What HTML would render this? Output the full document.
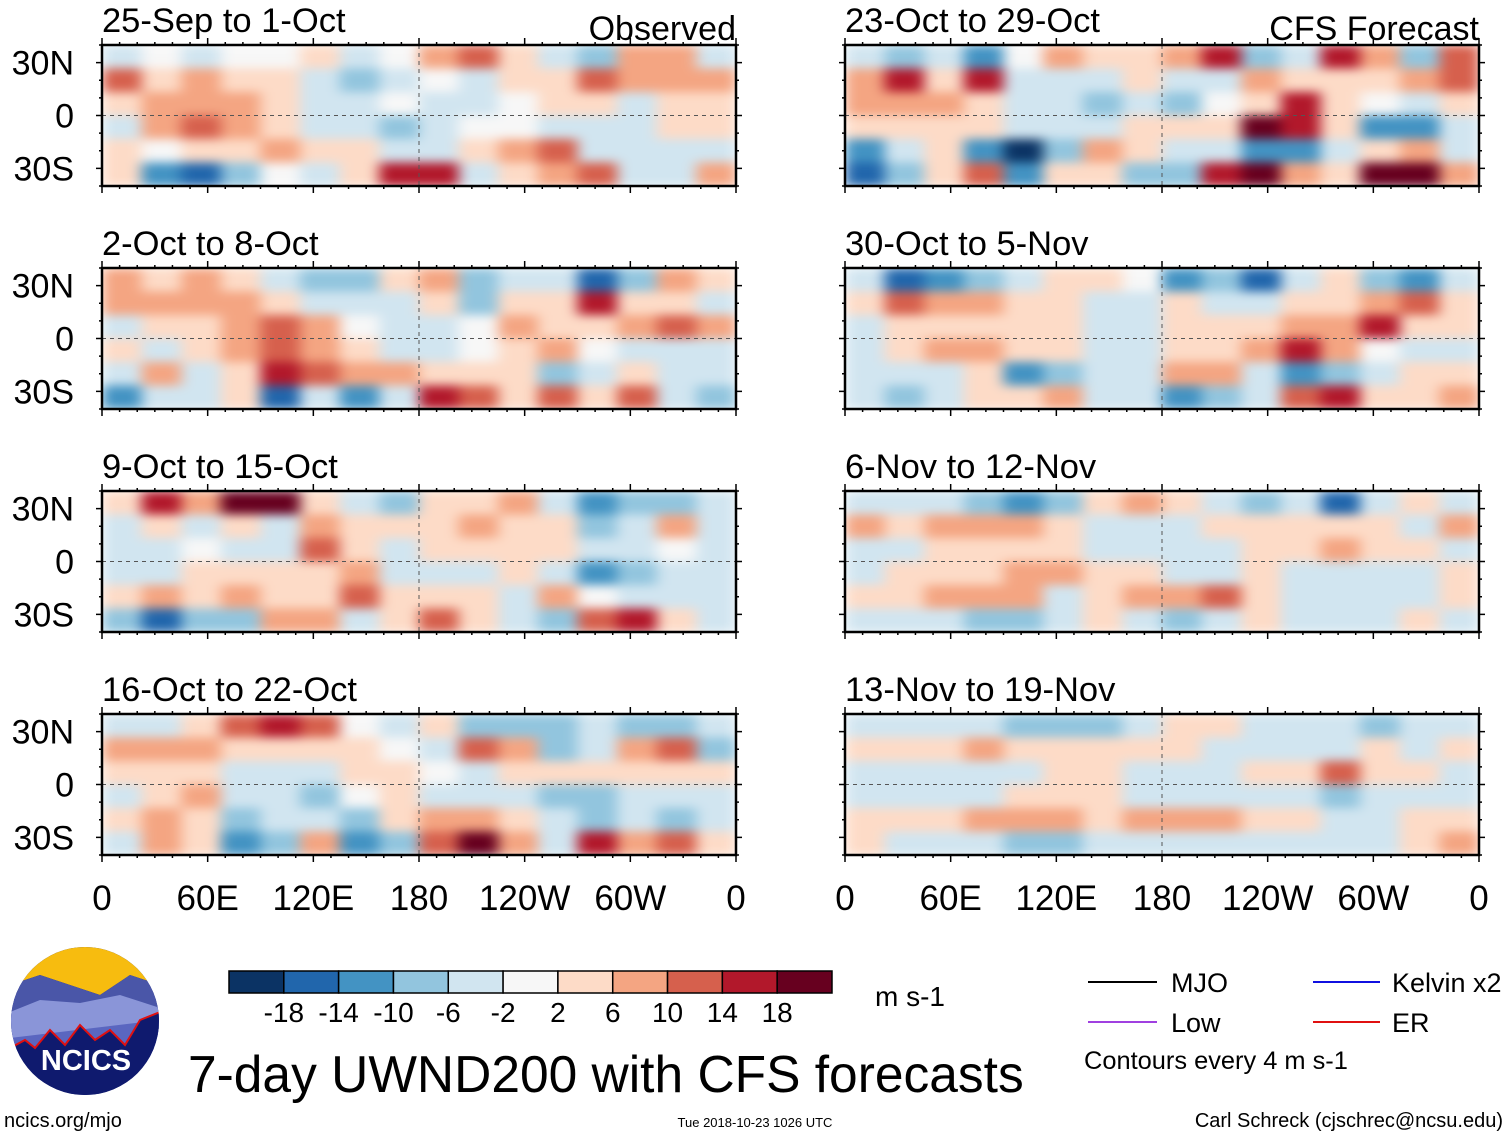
<!DOCTYPE html>
<html><head><meta charset="utf-8"><style>
html,body{margin:0;padding:0;background:#fff;}
svg{display:block;font-family:"Liberation Sans",sans-serif;}
</style></head><body>
<svg id="fig" width="1510" height="1137" viewBox="0 0 1510 1137" xmlns="http://www.w3.org/2000/svg">
<defs>
<filter id="smooth" x="0" y="0" width="1" height="1" color-interpolation-filters="sRGB"><feGaussianBlur stdDeviation="7 5" edgeMode="duplicate"/></filter>
</defs>
<g id="panels"></g>
<g id="xaxes"></g>
<g id="cbar"></g>
<text x="910" y="1006" font-size="28" text-anchor="middle">m s-1</text>
<text x="188" y="1092" font-size="51.5">7-day UWND200 with CFS forecasts</text>
<g>
<clipPath id="logoclip"><ellipse cx="85" cy="1021" rx="74" ry="74"/></clipPath>
<g clip-path="url(#logoclip)">
<rect x="10" y="946" width="150" height="150" fill="#0f1a6e"/>
<path d="M10 946 L160 946 L160 985 L130 975 L100 995 L70 985 L40 975 L10 985Z" fill="#f7bc0f"/>
<path d="M10 985 L40 975 L70 985 L100 995 L130 975 L160 985 L160 1040 L10 1040Z" fill="#4a56a8"/>
<path d="M10 1012 L40 1000 L80 1003 L120 995 L160 1008 L160 1050 L10 1050Z" fill="#8a95d8"/>
<path d="M10 1038 L160 1020 L160 1060 L10 1060Z" fill="#5a66c0"/>
<path d="M10 1048 L25 1040 L35 1048 L50 1030 L65 1045 L80 1025 L95 1040 L110 1030 L125 1045 L140 1020 L160 1012 L160 1100 L10 1100Z" fill="#0f1a6e" stroke="#e01010" stroke-width="2"/>
</g>
<text x="86" y="1070" font-size="29" font-weight="bold" fill="#fff" text-anchor="middle">NCICS</text>
</g>
<text x="4" y="1127" font-size="20">ncics.org/mjo</text>
<text x="755" y="1127" font-size="13" text-anchor="middle">Tue 2018-10-23 1026 UTC</text>
<text x="1503" y="1127" font-size="20" text-anchor="end">Carl Schreck (cjschrec@ncsu.edu)</text>
<g>
<line x1="1088" y1="982" x2="1157" y2="982" stroke="#000" stroke-width="2"/>
<text x="1171" y="992" font-size="27">MJO</text>
<line x1="1313" y1="982" x2="1380" y2="982" stroke="#1010e0" stroke-width="2"/>
<text x="1392" y="992" font-size="27">Kelvin x2</text>
<line x1="1088" y1="1022" x2="1157" y2="1022" stroke="#a040e0" stroke-width="2"/>
<text x="1171" y="1032" font-size="27">Low</text>
<line x1="1313" y1="1022" x2="1380" y2="1022" stroke="#e01010" stroke-width="2"/>
<text x="1392" y="1032" font-size="27">ER</text>
<text x="1084" y="1069" font-size="25.4">Contours every 4 m s-1</text>
</g>
</svg>
<script>
// ---- data: 200-hPa zonal wind anomalies (m/s), 6 latitude rows x 16 longitude cols per panel
const panelTitles = ["25-Sep to 1-Oct","2-Oct to 8-Oct","9-Oct to 15-Oct","16-Oct to 22-Oct","23-Oct to 29-Oct","30-Oct to 5-Nov","6-Nov to 12-Nov","13-Nov to 19-Nov"];
const colorLevels = [-18,-14,-10,-6,-2,2,6,10,14,18];
const colorPalette = ["#0b3364","#2166ac","#4393c3","#92c5de","#d1e5f0","#f7f7f7","#fddbc7","#f4a582","#d6604d","#b2182b","#67001f"];
const yTicks = ["30N","0","30S"];
const yTickLat = [30,0,-30];
const xTicks = ["0","60E","120E","180","120W","60W","0"];
const xTickLon = [0,60,120,180,240,300,360];
const field1 = [
[-4,0,-2,0,0,2,-2,0,6,10,2,-2,-8,6,8,-4],
[10,4,6,2,4,-2,-6,-2,0,-2,2,4,10,6,6,8],
[2,8,6,8,4,-4,-2,0,-2,-2,0,4,2,-2,2,4],
[-2,6,10,6,2,-2,-4,-6,-4,0,0,-2,-4,-4,2,2],
[4,0,4,4,6,4,2,-4,-2,4,6,10,-2,-4,-4,-2],
[4,-10,-14,-6,0,-2,4,16,14,-2,2,8,10,-4,-2,8]];
const field2 = [
[8,2,6,4,-2,-8,-8,2,6,-8,-2,-4,-14,-6,6,4],
[8,6,8,6,4,-2,-4,-4,2,-6,2,4,14,4,2,-2],
[-2,4,4,6,10,6,0,-4,-2,0,6,4,4,6,12,8],
[4,-4,2,6,12,8,4,-2,-4,0,2,6,0,-2,-2,-4],
[-2,6,-4,4,14,10,6,6,2,4,2,-6,-4,2,-2,-4],
[-12,-4,-4,4,-14,-4,-10,-2,16,10,4,10,2,10,-2,-8]];
const field3 = [
[2,14,8,18,20,4,-2,-6,2,4,6,-4,-10,-8,-6,-2],
[-2,2,-2,2,-4,6,2,2,4,6,4,2,-6,-4,6,-4],
[-2,-2,0,-4,-2,10,4,-2,4,2,2,2,-4,-4,0,-4],
[-2,-2,2,2,2,4,6,-2,-2,-4,2,-4,-10,-6,-2,-2],
[4,8,2,6,4,2,10,4,4,4,-4,6,0,-4,-4,-2],
[-6,-14,-8,-8,8,6,-2,4,10,4,-2,-6,10,14,4,-2]];
const field4 = [
[-2,-2,4,10,14,10,0,-4,4,-6,-8,-6,-4,-8,-8,-4],
[6,6,6,4,2,2,4,0,-4,12,6,-6,-2,6,10,-6],
[2,2,2,-2,-4,-2,2,2,0,-4,2,2,4,4,4,2],
[-2,4,6,-2,-4,-6,0,4,-4,-2,-4,-6,-8,-4,-2,-4],
[2,6,4,-6,-2,-2,-6,2,6,8,4,-4,-6,-4,-6,-2],
[-4,8,4,-10,-6,8,-10,-6,10,18,8,-2,14,8,12,2]];
const field5 = [
[-4,-6,-2,-10,0,8,4,2,6,14,-8,-4,14,6,-6,12],
[8,14,2,14,-2,-4,-4,2,-2,-4,6,2,2,4,6,12],
[6,8,6,4,-4,-4,-6,-2,-6,0,4,14,2,0,-2,4],
[4,4,2,4,-2,-4,-4,4,2,2,18,16,2,-12,-10,-4],
[-10,-4,4,-12,-18,-8,6,4,-2,-4,-10,-12,-4,4,8,-4],
[-16,-8,2,10,-10,4,2,-8,-6,16,20,6,2,18,18,6]];
const field6 = [
[-4,-16,-12,-8,-4,2,2,0,-10,-8,-14,-4,2,-6,-12,-4],
[2,10,8,6,4,4,-2,-4,2,-2,-4,2,4,6,10,4],
[-2,2,4,4,2,2,-2,-4,2,2,4,6,6,14,2,2],
[-2,4,6,6,4,2,-2,-2,2,4,8,16,8,0,-4,-2],
[-4,-2,-2,4,-10,-6,-2,-2,8,8,-4,-12,-8,-2,2,4],
[-2,-6,-2,2,4,6,-2,-2,-12,-6,-2,12,14,4,4,8]];
const field7 = [
[-2,-4,-2,-6,-10,-6,2,6,2,-2,-6,-4,-14,-4,2,-2],
[6,4,6,8,6,2,-2,-2,-4,2,2,4,2,4,-2,6],
[-2,-2,2,4,2,2,-2,-2,-2,-2,2,4,6,2,2,-2],
[-2,2,2,2,8,6,2,2,-2,-2,2,-2,-2,-4,-2,2],
[2,2,6,8,6,-2,2,6,8,10,4,-2,-2,-2,-2,2],
[-2,-2,-4,-8,-6,-2,2,-4,-8,-4,2,-2,-2,-2,4,-2]];
const field8 = [
[-2,-2,-2,-2,-8,-6,-6,-2,2,2,-2,-4,-4,-6,-4,-2],
[4,4,2,6,4,2,2,4,2,-2,-2,-2,-2,2,-2,4],
[-2,-2,-2,-4,-2,2,2,-2,-2,-2,2,4,10,4,2,-2],
[-2,-2,-2,-2,2,4,2,-2,-2,-4,-4,-4,-6,-4,-2,-2],
[2,2,2,6,8,6,2,6,6,6,2,2,-2,-2,2,4],
[2,-2,-2,-4,-8,-6,-4,-2,-2,-4,-2,-2,-2,-2,2,6]];
const fields = [field1,field2,field3,field4,field5,field6,field7,field8];

const NS = "http://www.w3.org/2000/svg";
const colX = [102, 845], rowY = [45, 268, 491, 714], PW = 634, PH = 141;
function mk(tag, attrs, parent){const e=document.createElementNS(NS,tag);for(const k in attrs)e.setAttribute(k,attrs[k]);parent.appendChild(e);return e;}
function colorFor(v){const n=Math.min(5,Math.max(0,Math.ceil(Math.abs(v)/4-0.25)));return colorPalette[5+Math.sign(v)*n];}
function lonToX(x0,lon){return x0+lon/360*PW;}
function latToY(y0,lat){return y0+(40-lat)/80*PH;}
const panelsG=document.getElementById('panels');
fields.forEach((f,p)=>{
  const col=p<4?0:1,row=p%4,x0=colX[col],y0=rowY[row];
  const g=mk('g',{},panelsG);
  
  
  const cp=mk('clipPath',{id:'cp'+p},g);mk('rect',{x:x0,y:y0,width:PW,height:PH},cp);
  const inner=mk('g',{'clip-path':'url(#cp'+p+')'},g);
  const fg=mk('g',{filter:'url(#smooth)'},inner);
  const nr=f.length,nc=f[0].length;
  for(let r=0;r<nr;r++)for(let c=0;c<nc;c++){
    const latTop=40-80*r/nr,latBot=40-80*(r+1)/nr,lonL=360*c/nc,lonR=360*(c+1)/nc;
    const cell=mk('rect',{x:lonToX(x0,lonL),y:latToY(y0,latTop),width:lonToX(x0,lonR)-lonToX(x0,lonL)+0.5,height:latToY(y0,latBot)-latToY(y0,latTop)+0.5,fill:colorFor(f[r][c])},fg);
    
    
  }
  mk('line',{x1:x0,x2:x0+PW,y1:latToY(y0,0),y2:latToY(y0,0),stroke:'#555','stroke-width':1,'stroke-dasharray':'4 4'},inner);
  mk('line',{x1:lonToX(x0,180),x2:lonToX(x0,180),y1:y0,y2:y0+PH,stroke:'#555','stroke-width':1,'stroke-dasharray':'4 4'},inner);
  mk('rect',{x:x0,y:y0,width:PW,height:PH,fill:'none',stroke:'#000','stroke-width':2.5},g);
  for(let lon=0;lon<=360;lon+=10){const x=lonToX(x0,lon),L=lon%60===0?7:3;
    mk('line',{x1:x,x2:x,y1:y0,y2:y0-L,stroke:'#000','stroke-width':1.5},g);
    mk('line',{x1:x,x2:x,y1:y0+PH,y2:y0+PH+L,stroke:'#000','stroke-width':1.5},g);}
  for(let lat=-40;lat<=40;lat+=10){const y=latToY(y0,lat),L=lat%30===0?6:3;
    mk('line',{x1:x0,x2:x0-L,y1:y,y2:y,stroke:'#000','stroke-width':1.5},g);
    mk('line',{x1:x0+PW,x2:x0+PW+L,y1:y,y2:y,stroke:'#000','stroke-width':1.5},g);}
  const t=mk('text',{x:x0,y:y0-13,'font-size':34.5},g);t.textContent=panelTitles[p];
  
  
  if(row===0){const s=mk('text',{x:x0+PW,y:y0-5,'font-size':34,'text-anchor':'end'},g);s.textContent=col===0?'Observed':'CFS Forecast';
    
    }
  if(col===0){yTicks.forEach((lab,i)=>{const tt=mk('text',{x:74,y:latToY(y0,yTickLat[i])+12,'font-size':34,'text-anchor':'end'},g);tt.textContent=lab;
    
    });}
});
const xa=document.getElementById('xaxes');
colX.forEach(x0=>{xTicks.forEach((lab,i)=>{const t=mk('text',{x:lonToX(x0,xTickLon[i]),y:910,'font-size':35,'text-anchor':'middle'},xa);t.textContent=lab;
  
  });});
const cb=document.getElementById('cbar');const cbx=229,cbw=603,cby=971,cbh=22,bw=cbw/colorPalette.length;
colorPalette.forEach((c,i)=>{const r=mk('rect',{x:cbx+i*bw,y:cby,width:bw,height:cbh,fill:c,stroke:'#000','stroke-width':1.5},cb);
  
  });
colorLevels.forEach((v,i)=>{const t=mk('text',{x:cbx+(i+1)*bw,y:1022,'font-size':28,'text-anchor':'middle'},cb);t.textContent=v;
  
  });
</script>
</body></html>
